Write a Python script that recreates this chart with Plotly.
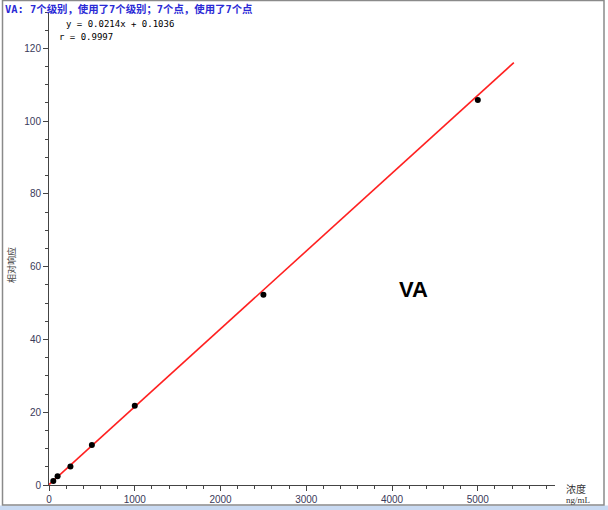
import plotly.graph_objects as go

# Data
conc = [50, 100, 250, 500, 1000, 2500, 5000]
response = [1.1, 2.4, 5.1, 11.0, 21.8, 52.3, 105.8]
slope = 0.0214
intercept = 0.1036
r_value = 0.9997
fit_range = [0, 5420]
x_ticks = [0, 1000, 2000, 3000, 4000, 5000]
y_ticks = [0, 20, 40, 60, 80, 100, 120]

title_text = "VA: 7个级别，使用了7个级别；7个点，使用了7个点"
eq_text = f"y = {slope}x + {intercept}"
r_text = f"r = {r_value}"

W, H = 608, 510
L, R, T, B = 49, 53, 12, 25
pw, ph = W - L - R, H - T - B

def px(x):
    return (x - L) / pw

def py(y):
    return (H - B - y) / ph

fit_y = [slope * v + intercept for v in fit_range]

fig = go.Figure()
fig.add_trace(go.Scatter(x=fit_range, y=fit_y, mode="lines",
                         line=dict(color="#ff2020", width=1.6),
                         hoverinfo="skip", showlegend=False))
fig.add_trace(go.Scatter(x=conc, y=response, mode="markers",
                         marker=dict(color="black", size=6),
                         showlegend=False))

tickfont = dict(family="Arial, Liberation Sans", size=10, color="#3a3a5a")
fig.update_xaxes(range=[0, 5900], tickvals=x_ticks, showgrid=False, zeroline=False,
                 showline=True, linecolor="#444", linewidth=1, automargin=False,
                 ticks="outside", ticklen=5, tickcolor="#444", tickfont=tickfont,
                 minor=dict(dtick=200, tick0=0, ticks="outside", ticklen=3, tickcolor="#444"))
fig.update_yaxes(range=[0, 130], tickvals=y_ticks, showgrid=False, zeroline=False,
                 showline=True, linecolor="#444", linewidth=1, automargin=False,
                 ticks="outside", ticklen=5, tickcolor="#444", tickfont=tickfont,
                 minor=dict(dtick=5, tick0=0, ticks="outside", ticklen=3, tickcolor="#444"))

annos = [
    dict(x=px(3), y=py(10), text="<b>" + title_text + "</b>", xanchor="left", yanchor="middle",
         font=dict(family="DejaVu Sans Mono, Noto Sans CJK SC", size=10.4, color="#2b2bd6")),
    dict(x=px(64), y=py(24), text=eq_text, xanchor="left", yanchor="middle",
         font=dict(family="DejaVu Sans Mono", size=9, color="black")),
    dict(x=px(57), y=py(37), text=r_text, xanchor="left", yanchor="middle",
         font=dict(family="DejaVu Sans Mono", size=9, color="black")),
    dict(x=px(413), y=py(289), text="<b>VA</b>", xanchor="center", yanchor="middle",
         font=dict(family="Arial, Liberation Sans", size=22, color="black")),
    dict(x=px(564), y=py(488), text="浓度", xanchor="left", yanchor="middle",
         font=dict(family="Noto Sans CJK SC", size=10, color="#333")),
    dict(x=px(564), y=py(500), text="ng/mL", xanchor="left", yanchor="middle",
         font=dict(family="Liberation Serif", size=9, color="#333")),
    dict(x=px(11), y=py(265), text="相对响应", textangle=-90, xanchor="center", yanchor="middle",
         font=dict(family="Noto Sans CJK SC", size=9, color="#444")),
]
for a in annos:
    a.update(xref="paper", yref="paper", showarrow=False)
    fig.add_annotation(**a)

shapes = [
    dict(type="rect", x0=px(0), x1=px(W), y0=py(505.5), y1=py(H),
         fillcolor="#c9daf2", line=dict(width=0), layer="below"),
    dict(type="rect", x0=px(2.5), x1=px(604), y0=py(505), y1=py(0.5),
         line=dict(color="#8a8a8a", width=1.5), fillcolor="rgba(0,0,0,0)"),
]
for s in shapes:
    s.update(xref="paper", yref="paper")
    fig.add_shape(**s)

fig.update_layout(width=W, height=H, margin=dict(l=L, r=R, t=T, b=B, autoexpand=False),
                  plot_bgcolor="white", paper_bgcolor="white", showlegend=False)

fig.write_html("out.html", config={"displayModeBar": False},
               post_script="document.body.style.margin='0';document.body.style.overflow='hidden';")
